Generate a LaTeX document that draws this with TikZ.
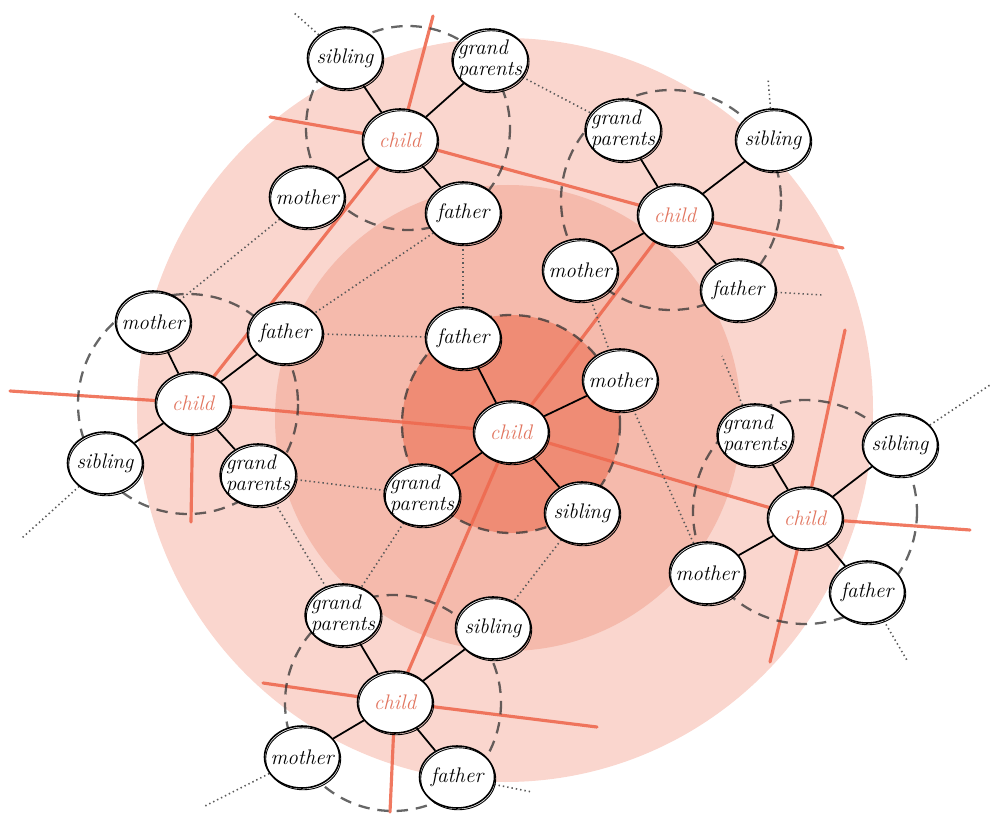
\documentclass[tikz,border=0pt]{standalone}
\usepackage{tikz}
\usetikzlibrary{shapes.geometric,backgrounds}

\definecolor{ringout}{RGB}{250,214,206}
\definecolor{ringmid}{RGB}{245,186,172}
\definecolor{ringin}{RGB}{239,140,117}
\definecolor{threadred}{RGB}{238,106,80}
\definecolor{kidtext}{RGB}{226,118,96}

\tikzset{
  member/.style={ellipse, draw=black, line width=0.9pt, fill=white,
    minimum width=1.5cm, minimum height=1.24cm, inner sep=-3pt, align=left,
    font=\itshape\fontsize{12}{12}\selectfont,
    postaction={draw=black, line width=0.5pt, transform canvas={shift={(0.7pt,-1pt)}}}},
  kid/.style={member, text=kidtext},
  tie/.style={black, line width=1pt},
  link/.style={black!65, line width=0.9pt, dash pattern=on 0.8pt off 1.7pt},
  ring/.style={black!80, opacity=0.75, line width=1.3pt, dash pattern=on 6.5pt off 4.5pt},
  thread/.style={threadred, line width=1.8pt, opacity=0.9, line cap=round, line join=round},
}

\begin{document}
\begin{tikzpicture}[x=0.02cm, y=-0.02cm]
  \useasboundingbox (0,0) rectangle (994,814);

  \node[kid] (c-child) at (511,432) {child};
  \node[member] (c-father) at (463,338) {father};
  \node[member] (c-mother) at (620,380) {mother};
  \node[member] (c-grand) at (422,495) {grand\\parents};
  \node[member] (c-sib) at (582,513) {sibling};

  \node[kid] (nw-child) at (400,140) {child};
  \node[member] (nw-sib) at (345,58) {sibling};
  \node[member] (nw-grand) at (490,60) {grand\\parents};
  \node[member] (nw-mother) at (307,197) {mother};
  \node[member] (nw-father) at (463,213) {father};

  \node[kid] (ne-child) at (675,215) {child};
  \node[member] (ne-grand) at (623,130) {grand\\parents};
  \node[member] (ne-sib) at (773,140) {sibling};
  \node[member] (ne-mother) at (580,270) {mother};
  \node[member] (ne-father) at (738,290) {father};

  \node[kid] (w-child) at (193,403) {child};
  \node[member] (w-mother) at (153,322) {mother};
  \node[member] (w-father) at (285,333) {father};
  \node[member] (w-sib) at (105,463) {sibling};
  \node[member] (w-grand) at (258,475) {grand\\parents};

  \node[kid] (e-child) at (805,518) {child};
  \node[member] (e-grand) at (755,435) {grand\\parents};
  \node[member] (e-sib) at (900,445) {sibling};
  \node[member] (e-mother) at (707,573) {mother};
  \node[member] (e-father) at (867,592) {father};

  \node[kid] (s-child) at (395,702) {child};
  \node[member] (s-grand) at (343,615) {grand\\parents};
  \node[member] (s-sib) at (493,628) {sibling};
  \node[member] (s-mother) at (302,757) {mother};
  \node[member] (s-father) at (457,777) {father};

  \coordinate (nw-out) at (293,12);
  \coordinate (ne-up) at (768,78);
  \coordinate (ne-out) at (822,295);
  \coordinate (w-out) at (22,538);
  \coordinate (e-up) at (722,356);
  \coordinate (e-out) at (990,385);
  \coordinate (e-down) at (908,662);
  \coordinate (s-outl) at (205,806);
  \coordinate (s-outr) at (532,792);

  \coordinate (t1a) at (270,117);
  \coordinate (t1b) at (843,248);
  \coordinate (t2a) at (433,16);
  \coordinate (t2b) at (191,522);
  \coordinate (t3a) at (10,391);
  \coordinate (t3b) at (970,530);
  \coordinate (t4b) at (390,812);
  \coordinate (t5a) at (845,330);
  \coordinate (t5b) at (770,662);
  \coordinate (t6a) at (263,683);
  \coordinate (t6b) at (597,727);

  \begin{scope}[on background layer]
    \fill[ringout] (505,410) ellipse [x radius=368, y radius=372];
    \fill[ringmid] (508,418) circle [radius=233];
    \fill[ringin] (511,424) circle [radius=109];

    \draw[thread] (t1a) -- (nw-child.center) -- (ne-child.center) -- (t1b);
    \draw[thread] (t2a) -- (nw-child.center) -- (w-child.center) -- (t2b);
    \draw[thread] (t3a) -- (w-child.center) -- (c-child.center) -- (e-child.center) -- (t3b);
    \draw[thread] (ne-child.center) -- (c-child.center) -- (s-child.center) -- (t4b);
    \draw[thread] (t5a) -- (e-child.center) -- (t5b);
    \draw[thread] (t6a) -- (s-child.center) -- (t6b);

    \draw[ring] (511,424) circle [radius=109];
    \draw[ring] (408,128) circle [radius=102];
    \draw[ring] (671,200) circle [radius=110];
    \draw[ring] (188,404) circle [radius=110];
    \draw[ring] (805,512) circle [radius=112];
    \draw[ring] (393,703) circle [radius=108];

    \draw[link] (nw-sib) -- (nw-out);
    \draw[link] (nw-grand) -- (ne-grand);
    \draw[link] (nw-mother) -- (w-mother);
    \draw[link] (nw-father) -- (w-father);
    \draw[link] (nw-father) -- (c-father);
    \draw[link] (w-father) -- (c-father);
    \draw[link] (w-grand) -- (c-grand);
    \draw[link] (w-grand) -- (s-grand);
    \draw[link] (w-sib) -- (w-out);
    \draw[link] (c-grand) -- (s-grand);
    \draw[link] (c-sib) -- (s-sib);
    \draw[link] (ne-mother) -- (c-mother);
    \draw[link] (c-mother) -- (e-mother);
    \draw[link] (ne-sib) -- (ne-up);
    \draw[link] (ne-father) -- (ne-out);
    \draw[link] (e-grand) -- (e-up);
    \draw[link] (e-sib) -- (e-out);
    \draw[link] (e-father) -- (e-down);
    \draw[link] (s-mother) -- (s-outl);
    \draw[link] (s-father) -- (s-outr);

    \draw[tie] (c-child) -- (c-father);
    \draw[tie] (c-child) -- (c-mother);
    \draw[tie] (c-child) -- (c-grand);
    \draw[tie] (c-child) -- (c-sib);
    \draw[tie] (nw-child) -- (nw-sib);
    \draw[tie] (nw-child) -- (nw-grand);
    \draw[tie] (nw-child) -- (nw-mother);
    \draw[tie] (nw-child) -- (nw-father);
    \draw[tie] (ne-child) -- (ne-grand);
    \draw[tie] (ne-child) -- (ne-sib);
    \draw[tie] (ne-child) -- (ne-mother);
    \draw[tie] (ne-child) -- (ne-father);
    \draw[tie] (w-child) -- (w-mother);
    \draw[tie] (w-child) -- (w-father);
    \draw[tie] (w-child) -- (w-sib);
    \draw[tie] (w-child) -- (w-grand);
    \draw[tie] (e-child) -- (e-grand);
    \draw[tie] (e-child) -- (e-sib);
    \draw[tie] (e-child) -- (e-mother);
    \draw[tie] (e-child) -- (e-father);
    \draw[tie] (s-child) -- (s-grand);
    \draw[tie] (s-child) -- (s-sib);
    \draw[tie] (s-child) -- (s-mother);
    \draw[tie] (s-child) -- (s-father);
  \end{scope}
\end{tikzpicture}
\end{document}
